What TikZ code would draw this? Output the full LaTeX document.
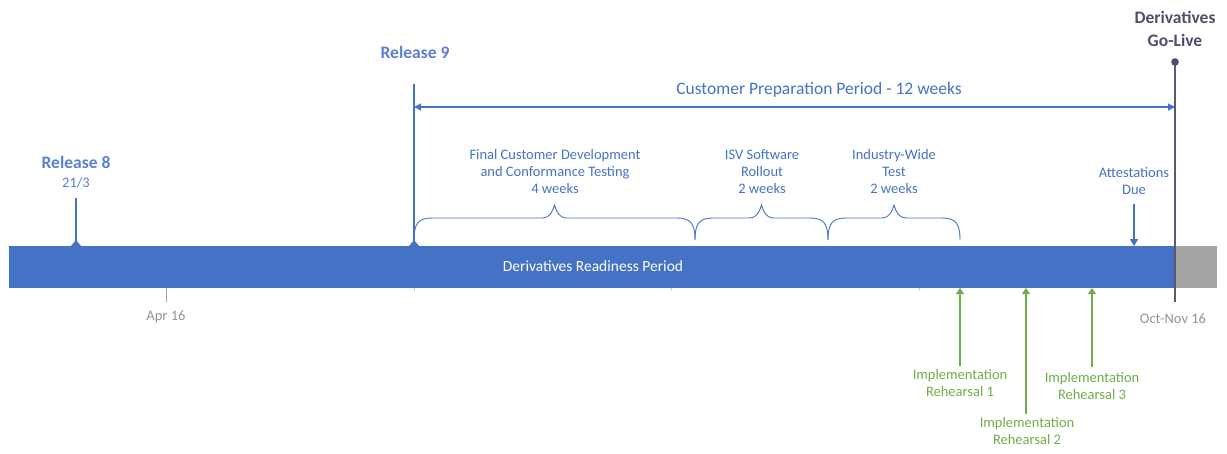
\documentclass[tikz,border=0pt]{standalone}
\usepackage{fontspec}
\setmainfont{Carlito}
\usetikzlibrary{arrows.meta}
\definecolor{barblue}{HTML}{4472C4}
\definecolor{txtblue}{HTML}{4472C4}
\definecolor{relblue}{HTML}{5B7FD6}
\definecolor{grn}{HTML}{70AD47}
\definecolor{gry}{HTML}{A5A5A5}
\definecolor{gotxt}{HTML}{4F4D6B}
\definecolor{goline}{HTML}{5A5A6E}
\newcommand\mybrace[3]{\draw[brc] (#1,240) .. controls (#1,224) and (#1+4,218) .. (#1+18,218) -- (#2-12,218) .. controls (#2-5,218) and (#2-2,212) .. (#2,205) .. controls (#2+2,212) and (#2+5,218) .. (#2+12,218) -- (#3-18,218) .. controls (#3-4,218) and (#3,224) .. (#3,240);}
\begin{document}
\begin{tikzpicture}[x=1pt,y=-1pt,
  lbl/.style={font=\fontsize{14.5}{17}\selectfont, align=center, inner sep=0pt, text=txtblue},
  glbl/.style={font=\fontsize{14.5}{17}\selectfont, align=center, inner sep=0pt, text=grn},
  graylbl/.style={font=\fontsize{14.5}{17}\selectfont, inner sep=0pt, text=gry!90!black},
  big/.style={font=\fontsize{17.5}{24}\selectfont\bfseries, align=center, inner sep=0pt},
  brc/.style={draw=txtblue, line width=0.9pt},
  relline/.style={draw=barblue, line width=1.2pt},
  garrow/.style={draw=grn, line width=1.3pt, -{Triangle[width=8pt,length=6pt]}},
  tick/.style={draw=gry, line width=1pt}]
\useasboundingbox (0,0) rectangle (1227,453);
% bar
\node[fill=barblue, minimum width=1166pt, minimum height=42pt, inner sep=0pt, anchor=north west] (bar) at (9,246) {};
\node[fill=gry, minimum width=42pt, minimum height=42pt, inner sep=0pt, anchor=north west] (grybar) at (1175,246) {};
\node[font=\fontsize{15.5}{17}\selectfont, text=white, inner sep=0pt] (barlbl) at (593,266) {Derivatives Readiness Period};
% ticks below bar
\coordinate (aprt) at (166,288); \coordinate (aprb) at (166,302);
\draw[tick] (aprt) -- (aprb);
\node[graylbl] (apr) at (166,317) {Apr 16};
\coordinate (t1a) at (414,288); \coordinate (t1b) at (414,291);
\coordinate (t2a) at (671,288); \coordinate (t2b) at (671,291);
\coordinate (t3a) at (919,288); \coordinate (t3b) at (919,291);
\draw[tick, gry!60] (t1a) -- (t1b) (t2a) -- (t2b) (t3a) -- (t3b);
% Release 8
\node[big, text=relblue] (r8) at (76,162) {Release 8};
\node[lbl, text=relblue] (r8d) at (76,183) {21/3};
\coordinate (r8top) at (76,198); \coordinate (r8bar) at (76,246);
\draw[relline] (r8top) -- (r8bar);
\fill[barblue] (71,246) -- (76,240) -- (81,246) -- cycle;
% Release 9
\node[big, text=relblue] (r9) at (415,52) {Release 9};
\coordinate (r9top) at (414,84); \coordinate (r9bar) at (414,246);
\draw[relline] (r9top) -- (r9bar);
\fill[barblue] (409,246) -- (414,240) -- (419,246) -- cycle;
% Go-live
\node[big, text=gotxt] (go) at (1175,29) {Derivatives\\[-0.5pt]Go-Live};
\coordinate (gotop) at (1175,62); \coordinate (gobot) at (1175,302);
\draw[goline, line width=1.2pt] (gotop) -- (gobot);
\fill[gotxt] (gotop) circle (3.8pt);
\node[graylbl] (oct) at (1173,319) {Oct-Nov 16};
% customer preparation arrow
\coordinate (cpl) at (414,107); \coordinate (cpr) at (1175,107);
\draw[relline, line width=1.1pt, {Triangle[width=7pt,length=7pt]}-{Triangle[width=7pt,length=7pt]}] (cpl) -- (cpr);
\node[font=\fontsize{17.5}{20}\selectfont, text=txtblue, inner sep=0pt] (cp) at (819,90) {Customer Preparation Period - 12 weeks};
% braces
\mybrace{414}{554.5}{695}
\mybrace{695}{761.5}{828}
\mybrace{828}{894}{960}
\node[lbl] (ph1) at (555,172) {Final Customer Development\\and Conformance Testing\\4 weeks};
\node[lbl] (ph2) at (762,172) {ISV Software\\Rollout\\2 weeks};
\node[lbl] (ph3) at (894,172) {Industry-Wide\\Test\\2 weeks};
% attestations
\node[lbl] (att) at (1134,181) {Attestations\\Due};
\coordinate (atttop) at (1134,204); \coordinate (attbar) at (1134,246);
\draw[relline, line width=1.1pt, -{Triangle[width=8pt,length=7pt]}] (atttop) -- (attbar);
% rehearsals
\coordinate (g1b) at (960,366); \coordinate (g1t) at (960,288);
\coordinate (g2b) at (1026,414); \coordinate (g2t) at (1026,288);
\coordinate (g3b) at (1092,367); \coordinate (g3t) at (1092,288);
\draw[garrow] (g1b) -- (g1t);
\draw[garrow] (g2b) -- (g2t);
\draw[garrow] (g3b) -- (g3t);
\node[glbl] (ir1) at (960,383) {Implementation\\Rehearsal 1};
\node[glbl] (ir2) at (1027,431) {Implementation\\Rehearsal 2};
\node[glbl] (ir3) at (1092,386) {Implementation\\Rehearsal 3};
\end{tikzpicture}
\end{document}
